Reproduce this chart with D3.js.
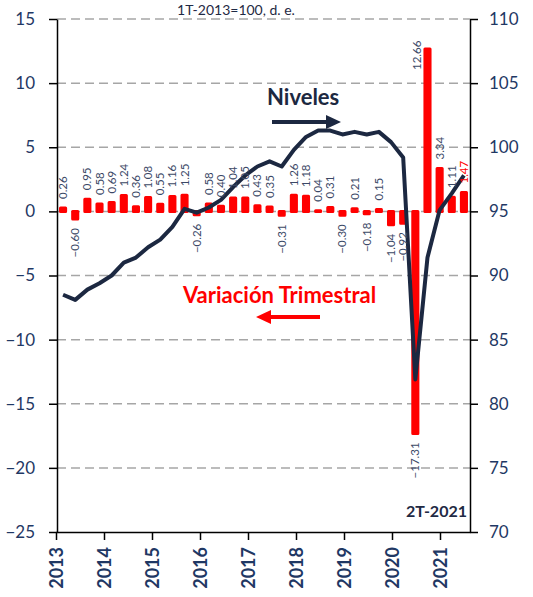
<!DOCTYPE html>
<html>
<head>
<meta charset="utf-8">
<script src="https://cdn.jsdelivr.net/npm/d3@7"></script>
<style>
	html, body { margin: 0; padding: 0; background: #fff; }
	svg { display: block; font-family: Lato, "Open Sans", sans-serif; }
</style>
</head>
<body>
<div id="chart"></div>
<script>
const quarters = [
	'1T-2013', '2T-2013', '3T-2013', '4T-2013',
	'1T-2014', '2T-2014', '3T-2014', '4T-2014',
	'1T-2015', '2T-2015', '3T-2015', '4T-2015',
	'1T-2016', '2T-2016', '3T-2016', '4T-2016',
	'1T-2017', '2T-2017', '3T-2017', '4T-2017',
	'1T-2018', '2T-2018', '3T-2018', '4T-2018',
	'1T-2019', '2T-2019', '3T-2019', '4T-2019',
	'1T-2020', '2T-2020', '3T-2020', '4T-2020',
	'1T-2021', '2T-2021'
];

// variacion trimestral, % (eje izquierdo)
const variacion = [
	0.26, -0.60, 0.95, 0.58, 0.69, 1.24, 0.36, 1.08, 0.55, 1.16, 1.25, -0.26,
	0.58, 0.40, 1.04, 1.05, 0.43, 0.35, -0.31, 1.26, 1.18, 0.04, 0.31, -0.30,
	0.21, -0.18, 0.15, -1.04, -0.92, -17.31, 12.66, 3.34, 1.11, 1.47
];

// niveles del indice (eje derecho)
const niveles = [
	88.5, 88.1, 88.9, 89.4, 90.0, 91.0, 91.4, 92.2, 92.8, 93.8, 95.2, 94.9,
	95.3, 95.9, 96.9, 97.8, 98.5, 98.9, 98.5, 99.8, 100.8, 101.3, 101.3, 101.0,
	101.2, 101.0, 101.2, 100.4, 99.2, 81.9, 91.4, 95.1, 96.4, 97.8
];

const years = [2013, 2014, 2015, 2016, 2017, 2018, 2019, 2020, 2021];
const leftTicks = [-25, -20, -15, -10, -5, 0, 5, 10, 15];
const rightTicks = [70, 75, 80, 85, 90, 95, 100, 105, 110];

class QuarterChart {

	/**
	 * @param {HTMLElement} element
	 */
	constructor(element) {
		this.element = element;
		this.width = 533;
		this.height = 597;
		this.plot = {left: 57, right: 470, top: 19, bottom: 532};
	}

	create() {
		this.svg = d3.select(this.element).append('svg')
			.attr('width', this.width)
			.attr('height', this.height);

		const p = this.plot;
		this.x = d3.scaleBand()
			.domain(quarters)
			.range([p.left, p.right])
			.paddingInner(0.58)
			.paddingOuter(0.29);
		this.xYear = d3.scaleLinear()
			.domain([2013, 2021.625])
			.range([p.left - 1, p.right]);
		this.yLeft = d3.scaleLinear().domain([-25, 15]).range([p.bottom, p.top]);
		this.yRight = d3.scaleLinear().domain([70, 110]).range([p.bottom, p.top]);

		this._drawTitle();
		this._drawGrid();
		this._drawBars();
		this._drawLine();
		this._drawBarLabels();
		this._drawAxes();
		this._drawNotes();
	}

	_drawTitle() {
		this.svg.append('text')
			.attr('x', 236)
			.attr('y', 15)
			.attr('text-anchor', 'middle')
			.attr('font-size', 14)
			.attr('fill', '#1f2a44')
			.text('1T-2013=100, d. e.');
	}

	_drawGrid() {
		const p = this.plot;
		this.svg.append('g')
			.selectAll('line')
			.data(leftTicks.filter(d => d > -25))
			.join('line')
			.attr('x1', p.left)
			.attr('x2', p.right)
			.attr('y1', d => this.yLeft(d))
			.attr('y2', d => this.yLeft(d))
			.attr('stroke', '#a6a6a6')
			.attr('stroke-width', 1.5)
			.attr('stroke-dasharray', '9,5');
	}

	_drawBars() {
		const y0 = this.yLeft(0);
		this.svg.append('g')
			.selectAll('rect')
			.data(variacion)
			.join('rect')
			.attr('x', (d, i) => this.x(quarters[i]))
			.attr('width', this.x.bandwidth())
			.attr('y', d => Math.min(this.yLeft(d), y0))
			.attr('height', d => Math.abs(this.yLeft(d) - y0))
			.attr('fill', '#ff0000')
			.attr('stroke', '#ff0000')
			.attr('stroke-width', 3)
			.attr('stroke-linejoin', 'round');
	}

	_drawLine() {
		const line = d3.line()
			.x((d, i) => this.x(quarters[i]) + this.x.bandwidth() / 2)
			.y(d => this.yRight(d));

		this.svg.append('path')
			.datum(niveles)
			.attr('d', line)
			.attr('fill', 'none')
			.attr('stroke', '#1c2841')
			.attr('stroke-width', 4)
			.attr('stroke-linejoin', 'round');
	}

	_drawBarLabels() {
		const fmt = d3.format('.2f');
		const p = this.plot;
		const last = variacion.length - 1;
		const tooTall = d => d >= 0 && this.yLeft(d) - 34 < p.top;

		this.svg.append('g')
			.attr('font-size', 11.5)
			.selectAll('text')
			.data(variacion)
			.join('text')
			.attr('transform', (d, i) => {
				let cx = this.x(quarters[i]) + this.x.bandwidth() / 2;
				let y = d >= 0 ? this.yLeft(d) - 9 : this.yLeft(d) + 9;
				// no room above: put the label beside the bar
				if (tooTall(d)) {
					cx -= 11;
					y = this.yLeft(d) + 21;
				}
				return `translate(${cx},${y}) rotate(-90)`;
			})
			.attr('dy', '0.35em')
			.attr('text-anchor', d => d >= 0 ? 'start' : 'end')
			.attr('fill', (d, i) => i === last ? '#ff0000' : '#3b4866')
			.text(d => fmt(d));
	}

	_drawAxes() {
		const p = this.plot;

		const left = this.svg.append('g')
			.attr('transform', `translate(${p.left},0)`)
			.call(d3.axisLeft(this.yLeft).tickValues(leftTicks).tickSize(8).tickSizeOuter(0).tickPadding(14));

		const right = this.svg.append('g')
			.attr('transform', `translate(${p.right},0)`)
			.call(d3.axisRight(this.yRight).tickValues(rightTicks).tickSize(8).tickSizeOuter(0).tickPadding(11));

		const bottom = this.svg.append('g')
			.attr('transform', `translate(0,${p.bottom})`)
			.call(d3.axisBottom(this.xYear).tickValues(years).tickFormat(d3.format('d')).tickSize(8).tickSizeOuter(0));

		[left, right, bottom].forEach(g => {
			g.select('.domain').attr('stroke', '#000').attr('stroke-width', 1.5);
			g.selectAll('.tick line').attr('stroke', '#000').attr('stroke-width', 1.5);
			g.selectAll('.tick text')
				.attr('font-family', 'Lato, sans-serif')
				.attr('font-size', 17)
				.attr('fill', '#1f3864');
		});

		bottom.selectAll('.tick text')
			.attr('font-size', 18)
			.attr('font-weight', 'bold')
			.attr('transform', 'rotate(-90)')
			.attr('text-anchor', 'end')
			.attr('x', -15)
			.attr('y', 0)
			.attr('dy', '0.36em');
	}

	_drawNotes() {
		const navy = '#1c2841';
		const red = '#ff0000';

		this.svg.append('text')
			.attr('x', 267)
			.attr('y', 105)
			.attr('font-size', 22)
			.attr('font-weight', 'bold')
			.attr('fill', navy)
			.text('Niveles');

		this.svg.append('line')
			.attr('x1', 272).attr('x2', 330)
			.attr('y1', 122).attr('y2', 122)
			.attr('stroke', navy)
			.attr('stroke-width', 4);
		this.svg.append('path')
			.attr('d', 'M326,115 L341,122 L326,129 Z')
			.attr('fill', navy);

		this.svg.append('text')
			.attr('x', 183)
			.attr('y', 303)
			.attr('font-size', 22)
			.attr('font-weight', 'bold')
			.attr('fill', red)
			.text('Variación Trimestral');

		this.svg.append('line')
			.attr('x1', 268).attr('x2', 320)
			.attr('y1', 317).attr('y2', 317)
			.attr('stroke', red)
			.attr('stroke-width', 4);
		this.svg.append('path')
			.attr('d', 'M271,310 L256,317 L271,324 Z')
			.attr('fill', red);

		this.svg.append('text')
			.attr('x', 467)
			.attr('y', 517)
			.attr('text-anchor', 'end')
			.attr('font-size', 16)
			.attr('font-weight', 'bold')
			.attr('fill', '#1f2a44')
			.text('2T-2021');
	}
}

new QuarterChart(document.getElementById('chart')).create();
</script>
</body>
</html>
